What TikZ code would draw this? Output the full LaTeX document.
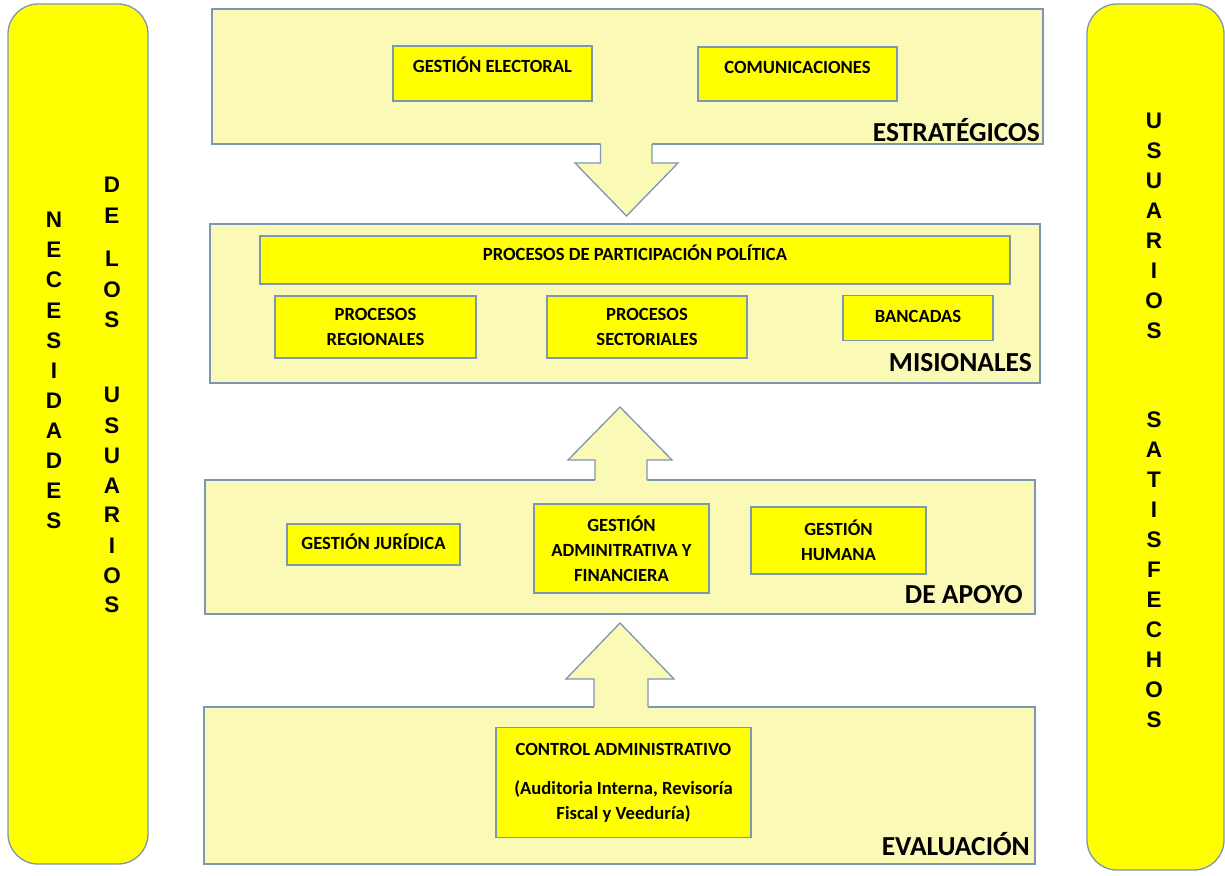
\documentclass[tikz,border=0pt]{standalone}
\usepackage{fontspec}
\setmainfont{Carlito}
\newfontfamily\letterfont{Liberation Sans}
\usepackage{tikz}

\definecolor{panelfill}{RGB}{250,250,182}
\definecolor{panelline}{RGB}{125,150,180}
\definecolor{boxfill}{RGB}{255,255,0}

\tikzstyle{panel} = [draw=panelline, fill=panelfill, line width=1.3pt, inner sep=0pt]
\tikzstyle{box} = [draw=panelline, fill=boxfill, line width=1.1pt, inner sep=0pt, align=center, font=\bfseries\fontsize{18.6}{25}\selectfont]
\tikzstyle{sidebar} = [draw=panelline, fill=boxfill, line width=1.3pt, rounded corners=30pt, inner sep=0pt]
\tikzstyle{vletter} = [font=\letterfont\bfseries\fontsize{22.5}{26}\selectfont, inner sep=0pt]
\tikzstyle{panellabel} = [font=\bfseries\fontsize{27.5}{30}\selectfont, inner sep=0pt, anchor=base east]
\tikzstyle{bigarrow} = [draw=panelline, line width=1.3pt, line join=miter]

\begin{document}
\begin{tikzpicture}[x=1pt,y=-1pt]
    \useasboundingbox (0,0) rectangle (1225,875);

    % side bars
    \node[sidebar, minimum width=140, minimum height=860] (nec) at (78,434) {};
    \node[sidebar, minimum width=137, minimum height=866] (usr) at (1155.5,437) {};

    \foreach \ch [count=\i from 0] in {N,E,C,E,S,I,D,A,D,E,S}
        \node[vletter] (nec\i) at (54,220+30.1*\i) {\ch};
    \foreach \ch/\yy [count=\i] in {D/185,E/216,L/259,O/290,S/320,U/395,S/426,U/456,A/486,R/515,I/546,O/576,S/605}
        \node[vletter] (delos\i) at (112,\yy) {\ch};
    \foreach \ch [count=\i from 0] in {U,S,U,A,R,I,O,S}
        \node[vletter] (usu\i) at (1154,121+30*\i) {\ch};
    \foreach \ch [count=\i from 0] in {S,A,T,I,S,F,E,C,H,O,S}
        \node[vletter] (sat\i) at (1154,420+30*\i) {\ch};

    % panels
    \node[panel, minimum width=831, minimum height=135] (estr) at (627.5,76.5) {};
    \node[panel, minimum width=830, minimum height=159] (mis) at (625,303.5) {};
    \node[panel, minimum width=830, minimum height=134] (apoyo) at (620,547) {};
    \node[panel, minimum width=831, minimum height=157] (eval) at (619.5,785.5) {};

    % block arrows
    \fill[panelfill] (600.5,141) -- (600.5,163) -- (575,163) -- (626.5,216) -- (678,163) -- (652,163) -- (652,141) -- cycle;
    \draw[bigarrow] (600.5,144) -- (600.5,163) -- (575,163) -- (626.5,216) -- (678,163) -- (652,163) -- (652,144);
    \fill[panelfill] (595,483) -- (595,460) -- (568,460) -- (620,407) -- (672,460) -- (647,460) -- (647,483) -- cycle;
    \draw[bigarrow] (595,480) -- (595,460) -- (568,460) -- (620,407) -- (672,460) -- (647,460) -- (647,480);
    \fill[panelfill] (594,710) -- (594,679) -- (566,679) -- (620,623) -- (674,679) -- (648,679) -- (648,710) -- cycle;
    \draw[bigarrow] (594,707) -- (594,679) -- (566,679) -- (620,623) -- (674,679) -- (648,679) -- (648,707);

    % estrategicos
    \node[box, minimum width=199, minimum height=55, text height=12pt, text depth=13pt] (ge) at (492.5,73.5) {GESTIÓN ELECTORAL};
    \node[box, minimum width=199, minimum height=54, text height=12pt, text depth=13pt] (com) at (797.5,74) {COMUNICACIONES};
    \node[panellabel] (estrlbl) at (1040,141) {ESTRATÉGICOS};

    % misionales
    \node[box, minimum width=750, minimum height=48, text height=12pt, text depth=11pt] (ppp) at (635,260) {PROCESOS DE PARTICIPACIÓN POLÍTICA};
    \node[box, minimum width=201, minimum height=62] (preg) at (375.5,327) {PROCESOS\\REGIONALES};
    \node[box, minimum width=200, minimum height=62] (psec) at (647,327) {PROCESOS\\SECTORIALES};
    \node[box, minimum width=150, minimum height=45, text height=12pt, text depth=4pt] (banc) at (918,318) {BANCADAS};
    \node[panellabel] (mislbl) at (1032,371) {MISIONALES};

    % de apoyo
    \node[box, minimum width=173, minimum height=41, text height=12pt, text depth=3pt] (gjur) at (373.5,544.5) {GESTIÓN JURÍDICA};
    \node[box, minimum width=175, minimum height=89] (gadm) at (621.5,548.5) {GESTIÓN\\ADMINITRATIVA Y\\FINANCIERA};
    \node[box, minimum width=175, minimum height=67] (ghum) at (838.5,540.5) {GESTIÓN\\HUMANA};
    \node[panellabel] (apoyolbl) at (1023,603) {DE APOYO};

    % evaluacion
    \node[box, minimum width=255, minimum height=110] (ctrl) at (623.5,782.5) {CONTROL ADMINISTRATIVO\\[14pt](Auditoria Interna, Revisoría\\Fiscal y Veeduría)};
    \node[panellabel] (evallbl) at (1030,855) {EVALUACIÓN};
\end{tikzpicture}
\end{document}
